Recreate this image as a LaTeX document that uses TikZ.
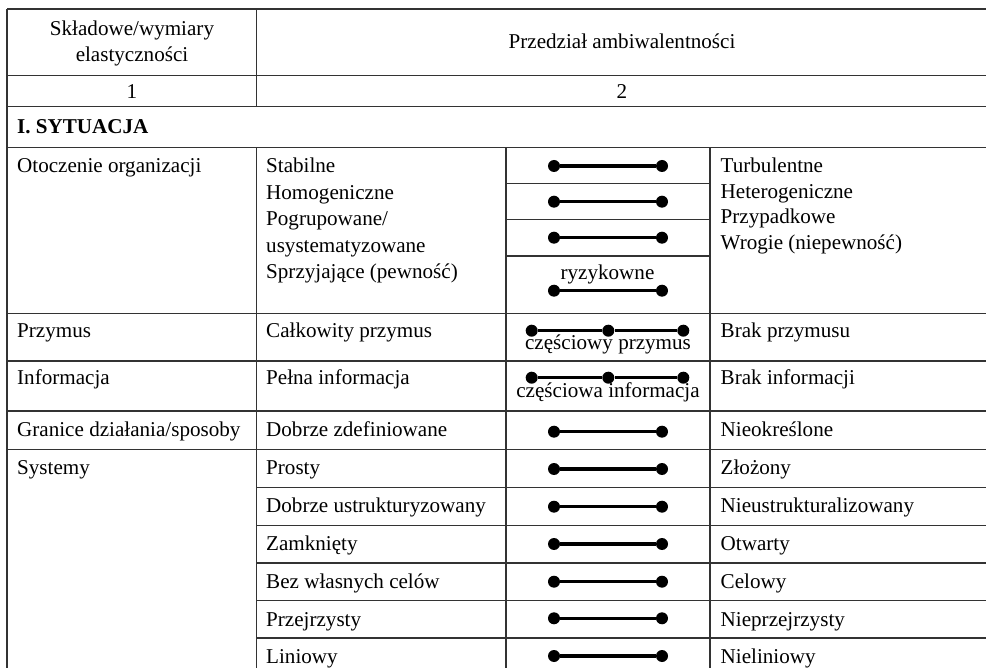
\documentclass[tikz,border=0pt]{standalone}
\usepackage{fontspec}
\setmainfont{Liberation Serif}
\usetikzlibrary{shapes,shapes.misc}

\begin{document}
\begin{tikzpicture}[x=1pt,y=-1pt,font=\fontsize{21.1}{26.7}\selectfont]
\useasboundingbox (0,0) rectangle (986,668);
% table rules
\begin{scope}[draw=black!80,line width=1.2pt]
    \draw (7,9) -- (986,9);
    \draw (7,75.3) -- (986,75.3);
    \draw (7,106.7) -- (986,106.7);
    \draw (7,147.5) -- (986,147.5);
    \draw (506,183.3) -- (710,183.3);
    \draw (506,219.5) -- (710,219.5);
    \draw (506,256) -- (710,256);
    \draw (7,313.3) -- (986,313.3);
    \draw (7,361) -- (986,361);
    \draw (7,411) -- (986,411);
    \draw (7,449.3) -- (986,449.3);
    \draw (256.5,487.3) -- (986,487.3);
    \draw (256.5,525.3) -- (986,525.3);
    \draw (256.5,563) -- (986,563);
    \draw (256.5,600.3) -- (986,600.3);
    \draw (256.5,638) -- (986,638);
    \draw (7,9) -- (7,668);
    \draw (256.5,9) -- (256.5,106.7);
    \draw (256.5,147.5) -- (256.5,668);
    \draw (506,147.5) -- (506,668);
    \draw (710,147.5) -- (710,668);
\end{scope}
\begin{scope}[every node/.style={inner sep=0pt,anchor=base}]
    \node (H1) at (132,36) {Składowe/wymiary};
    \node (H2) at (132,62) {elastyczności};
    \node (H3) at (622,49) {Przedział ambiwalentności};
    \node (N1) at (132,98.5) {1};
    \node (N2) at (622,98.5) {2};
    \node (Q1) at (607.5,280) {ryzykowne};
    \node (Q2) at (608,350) {częściowy przymus};
    \node (Q3) at (608,398) {częściowa informacja};
\end{scope}
\begin{scope}[every node/.style={inner sep=0pt,anchor=base west}]
    \node (S) at (17,133.3) {\bfseries I. SYTUACJA};
    % first column
    \node (K1) at (17,172.7) {Otoczenie organizacji};
    \node (K2) at (17,338) {Przymus};
    \node (K3) at (17,384.5) {Informacja};
    \node (K4) at (17,436) {Granice działania/sposoby};
    \node (K5) at (17,475) {Systemy};
    % left ends
    \node (P1) at (266,172.7) {Stabilne};
    \node (P2) at (266,199.3) {Homogeniczne};
    \node (P3) at (266,226) {Pogrupowane/};
    \node (P4) at (266,252.5) {usystematyzowane};
    \node (P5) at (266,279) {Sprzyjające (pewność)};
    \node (P6) at (266,338) {Całkowity przymus};
    \node (P7) at (266,384.5) {Pełna informacja};
    \node (P8) at (266,436) {Dobrze zdefiniowane};
    \node (P9) at (266,475) {Prosty};
    \node (P10) at (266,512.7) {Dobrze ustrukturyzowany};
    \node (P11) at (266,550.3) {Zamknięty};
    \node (P12) at (266,588.3) {Bez własnych celów};
    \node (P13) at (266,626) {Przejrzysty};
    \node (P14) at (266,663.5) {Liniowy};
    % right ends
    \node (R1) at (720.5,172.7) {Turbulentne};
    \node (R2) at (720.5,198.5) {Heterogeniczne};
    \node (R3) at (720.5,224) {Przypadkowe};
    \node (R4) at (720.5,249.5) {Wrogie (niepewność)};
    \node (R6) at (720.5,338) {Brak przymusu};
    \node (R7) at (720.5,384.5) {Brak informacji};
    \node (R8) at (720.5,436) {Nieokreślone};
    \node (R9) at (720.5,475) {Złożony};
    \node (R10) at (720.5,512.7) {Nieustrukturalizowany};
    \node (R11) at (720.5,550.3) {Otwarty};
    \node (R12) at (720.5,588.3) {Celowy};
    \node (R13) at (720.5,626) {Nieprzejrzysty};
    \node (R14) at (720.5,663.5) {Nieliniowy};
\end{scope}
\begin{scope}[every node/.style={circle,fill=black,inner sep=0pt,minimum size=12pt}]
    \node (A1) at (554,166) {};
    \node (B1) at (662,166) {};
    \node (A2) at (554,201.7) {};
    \node (B2) at (662,201.7) {};
    \node (A3) at (554,237.7) {};
    \node (B3) at (662,237.7) {};
    \node (A4) at (554,290.7) {};
    \node (B4) at (662,290.7) {};
    \node (A5) at (531.7,330.7) {};
    \node (C5) at (608.3,330.7) {};
    \node (B5) at (683.3,330.7) {};
    \node (A6) at (531.7,377.7) {};
    \node (C6) at (608.3,377.7) {};
    \node (B6) at (683.3,377.7) {};
    \node (A7) at (554,431.7) {};
    \node (B7) at (662,431.7) {};
    \node (A8) at (554,469) {};
    \node (B8) at (662,469) {};
    \node (A9) at (554,506.7) {};
    \node (B9) at (662,506.7) {};
    \node (A10) at (554,544) {};
    \node (B10) at (662,544) {};
    \node (A11) at (554,581.7) {};
    \node (B11) at (662,581.7) {};
    \node (A12) at (554,618.3) {};
    \node (B12) at (662,618.3) {};
    \node (A13) at (554,656) {};
    \node (B13) at (662,656) {};
\end{scope}
\begin{scope}[every edge/.style={draw=black,line width=3.4pt}]
    \path [-] (A1) edge (B1);
    \path [-] (A2) edge (B2);
    \path [-] (A3) edge (B3);
    \path [-] (A4) edge (B4);
    \path [-] (A5) edge (C5);
    \path [-] (C5) edge (B5);
    \path [-] (A6) edge (C6);
    \path [-] (C6) edge (B6);
    \path [-] (A7) edge (B7);
    \path [-] (A8) edge (B8);
    \path [-] (A9) edge (B9);
    \path [-] (A10) edge (B10);
    \path [-] (A11) edge (B11);
    \path [-] (A12) edge (B12);
    \path [-] (A13) edge (B13);
\end{scope}
\end{tikzpicture}
\end{document}
